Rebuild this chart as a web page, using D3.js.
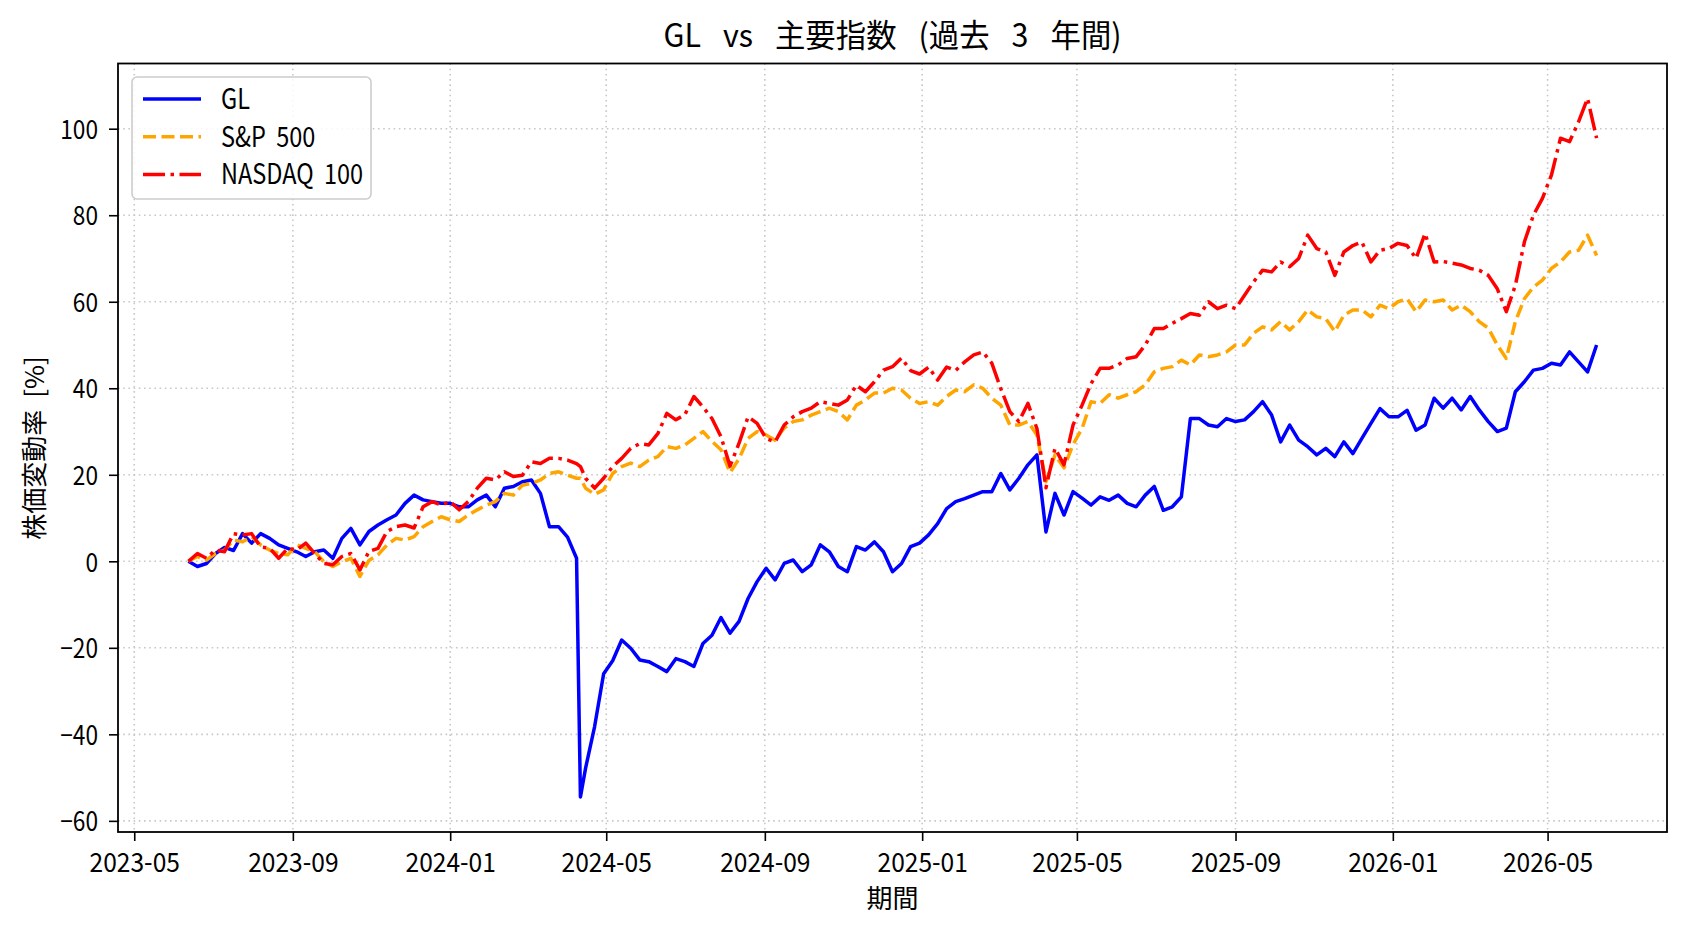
<!DOCTYPE html>
<html>
<head>
<meta charset="utf-8">
<script src="https://cdn.jsdelivr.net/npm/d3@7"></script>
<style>
  body { margin: 0; background: #fff; }
  text { font-family: "Noto Sans CJK JP", "Noto Sans", sans-serif; fill: #000; }
</style>
</head>
<body>
<div id="chart"></div>
<script>
// --- data (percent change since start, sampled about weekly) ---
var startDate = "2023-06-12";
var dayOffsets = [0,7,14,21,28,35,42,49,56,63,70,77,84,91,98,105,112,119,126,133,140,147,154,161,168,175,182,189,196,203,210,217,224,231,238,245,252,259,266,273,280,287,294,301,304,308,315,322,329,336,343,350,357,364,371,378,385,392,399,406,413,420,427,434,441,448,455,462,469,476,483,490,497,504,511,518,525,532,539,546,553,560,567,574,581,588,595,602,609,616,623,630,637,644,651,658,665,672,679,686,693,700,707,714,721,728,735,742,749,756,763,770,777,784,791,798,805,812,819,826,833,840,847,854,861,868,875,882,889,896,903,910,917,924,931,938,945,952,959,966,973,980,987,994,1001,1008,1015,1022,1029,1036,1043,1050,1057,1064,1071,1078,1085,1092];

var glValues = [0,-1.2,-0.5,1.8,3.2,2.5,6.4,4.2,6.4,5.3,
  3.8,3.0,2.2,1.1,2.2,2.6,0.7,5.3,7.6,3.8,
  6.9,8.4,9.6,10.7,13.4,15.3,14.2,13.8,13.4,13.4,
  12.6,12.6,14.2,15.3,12.6,16.9,17.3,18.4,18.8,15.7,
  8.0,8.0,5.6,0.7,
  -54.5,
  -47.8,-38.2,-26.0,-23.0,-18.2,-20.1,
  -22.8,-23.2,-24.3,-25.5,-22.5,-23.2,-24.3,-19.0,-17.1,-13.0,
  -16.6,-13.9,-8.6,-4.7,-1.6,-4.3,-0.5,0.3,-2.4,-0.8,
  3.8,2.2,-1.2,-2.4,3.4,2.6,4.5,2.2,-2.4,-0.5,
  3.4,4.2,6.1,8.7,12.2,13.8,14.5,15.3,16.1,16.1,
  20.3,16.5,19.2,22.3,24.6,6.8,15.7,10.7,16.1,14.6,
  13.0,14.9,14.1,15.3,13.4,12.6,15.3,17.3,11.8,12.6,
  14.9,33.0,33.0,31.5,31.1,33.0,32.3,32.7,34.6,36.9,
  33.8,27.6,31.5,28.0,26.5,24.6,26.1,24.2,27.6,24.9,
  28.4,31.9,35.3,33.4,33.4,34.9,30.3,31.5,37.7,35.4,
  37.7,35.0,38.1,35.0,32.3,30.0,30.8,39.2,41.5,44.2,
  44.6,45.8,45.4,48.4,46.1,43.8,50.0];

var spValues = [0,1.1,0.3,1.8,2.6,4.9,4.5,5.7,3.8,2.6,
  1.8,1.5,3.8,3.0,2.2,-0.1,-1.2,-0.1,0.7,-3.5,
  0.2,1.5,3.8,5.3,4.9,5.7,8.0,9.2,10.3,9.6,
  9.2,10.7,11.9,13.0,13.8,15.7,15.3,17.6,18.0,18.8,
  20.3,20.7,19.9,19.2,
  19.2,
  16.9,15.5,16.5,20.3,21.9,22.7,
  21.9,23.4,24.2,26.5,26.1,26.9,28.4,30.0,27.7,25.8,
  20.5,23.7,28.4,30.0,29.2,28.0,30.8,32.3,32.7,33.8,
  34.6,35.4,34.6,32.7,36.1,37.3,38.9,38.9,40.0,39.6,
  37.7,36.5,36.9,36.1,38.1,39.6,39.2,40.8,40.0,37.7,
  36.1,31.5,31.5,32.3,29.2,18.4,24.6,21.6,27.0,30.7,
  36.9,36.5,38.5,37.7,38.5,39.2,40.8,43.8,44.6,45.0,
  46.5,45.4,47.7,47.3,47.7,48.4,50.0,50.0,52.7,54.2,
  53.5,55.4,53.5,55.4,58.1,56.5,56.1,53.1,56.9,58.1,
  58.1,56.5,59.2,58.4,60.0,60.7,57.7,60.4,60.0,60.4,
  58.1,59.2,57.7,55.4,53.9,50.0,46.9,55.4,60.7,63.4,
  65.0,67.7,69.2,71.5,71.9,75.4,70.7];

var ndxValues = [0,1.8,0.7,2.6,2.2,6.4,6.1,6.4,3.3,3.0,
  0.7,3.0,2.6,4.2,1.8,-0.5,-0.8,1.1,1.8,-2.0,
  2.3,3.0,6.9,8.0,8.4,7.7,12.6,13.8,13.0,13.8,
  11.9,13.8,16.9,19.2,18.8,20.7,19.6,19.9,23.0,22.6,
  23.8,23.8,23.4,22.6,
  21.9,
  19.2,16.9,19.2,21.9,23.8,26.1,
  27.2,26.9,29.5,34.2,32.7,33.9,38.1,35.7,33.0,28.8,
  22.0,27.3,33.4,31.9,28.4,27.6,31.5,33.4,34.6,35.4,
  36.9,36.5,36.1,37.3,40.7,39.2,41.5,44.2,45.0,47.0,
  44.1,43.3,44.9,41.9,44.9,44.1,46.1,47.7,48.4,45.8,
  39.9,34.6,32.3,36.5,30.7,17.0,26.1,22.3,31.5,36.1,
  41.1,44.6,44.6,45.4,46.9,47.3,50.0,53.8,53.8,55.0,
  56.1,57.3,56.9,60.0,58.4,59.2,58.4,61.5,64.6,67.3,
  66.9,69.2,68.1,70.0,75.4,72.3,71.5,66.1,71.5,73.0,
  73.8,69.2,71.9,72.3,73.5,73.0,70.0,75.8,69.2,69.3,
  68.9,68.5,67.7,67.3,66.1,63.0,57.7,63.8,73.8,80.0,
  83.9,89.3,97.8,97.0,101.6,107.0,97.8];

var seriesNames = ["GL", "S&P 500", "NASDAQ 100"];
var seriesColors = ["#0000ff", "#ffa500", "#ff0000"];
var seriesDash = [null, "13,5.5", "22,5.5,3.5,5.5"];
var xTickLabels = ["2023-05","2023-09","2024-01","2024-05","2024-09","2025-01","2025-05","2025-09","2026-01","2026-05"];
var yTickValues = [-60,-40,-20,0,20,40,60,80,100];

(function() {
    var width = 1688,
        height = 932;
    var left = 118, right = 1667, top = 63.5, bottom = 832;
    var squeeze = 0.84;   // the reference font is narrow, so condense the text a bit

    var svg = d3.select("#chart")
        .append("svg")
        .attr("width", width)
        .attr("height", height)

    var parseDay = d3.timeParse("%Y-%m-%d"),
        parseMonth = d3.timeParse("%Y-%m");
    var t0 = parseDay(startDate);
    var dates = dayOffsets.map(function(o) { return d3.timeDay.offset(t0, o) });

    var allValues = [glValues, spValues, ndxValues];
    var series = allValues.map(function(vals, i) {
        return {
            name: seriesNames[i],
            color: seriesColors[i],
            dash: seriesDash[i],
            points: vals.map(function(v, j) { return {date: dates[j], value: v} })
        }
    })

    // matplotlib style 5% margins
    var dExt = d3.extent(dates),
        dPad = (dExt[1] - dExt[0]) * 0.05;
    var vExt = d3.extent(d3.merge(allValues)),
        vPad = (vExt[1] - vExt[0]) * 0.05;

    var x = d3.scaleTime()
        .domain([new Date(+dExt[0] - dPad), new Date(+dExt[1] + dPad)])
        .range([left, right])
    var y = d3.scaleLinear()
        .domain([vExt[0] - vPad, vExt[1] + vPad])
        .range([bottom, top])

    var xTicks = xTickLabels.map(function(s) { return parseMonth(s) });

    // grid
    var grid = svg.append("g")
        .attr("stroke", "#c8c8c8")
        .attr("stroke-width", 1.6)
        .attr("stroke-dasharray", "1.6,3.6")
    grid.selectAll(".gx")
        .data(xTicks)
        .enter().append("line")
        .attr("x1", function(d) { return x(d) })
        .attr("x2", function(d) { return x(d) })
        .attr("y1", top)
        .attr("y2", bottom)
    grid.selectAll(".gy")
        .data(yTickValues)
        .enter().append("line")
        .attr("x1", left)
        .attr("x2", right)
        .attr("y1", function(d) { return y(d) })
        .attr("y2", function(d) { return y(d) })

    // lines
    var line = d3.line()
        .x(function(d) { return x(d.date) })
        .y(function(d) { return y(d.value) })

    svg.selectAll(".series")
        .data(series)
        .enter().append("path")
        .attr("class", "series")
        .attr("d", function(d) { return line(d.points) })
        .attr("fill", "none")
        .attr("stroke", function(d) { return d.color })
        .attr("stroke-width", 3.5)
        .attr("stroke-linejoin", "round")
        .attr("stroke-dasharray", function(d) { return d.dash })

    // frame
    svg.append("rect")
        .attr("x", left)
        .attr("y", top)
        .attr("width", right - left)
        .attr("height", bottom - top)
        .attr("fill", "none")
        .attr("stroke", "#000")
        .attr("stroke-width", 1.8)

    // axes
    var xAxis = svg.append("g")
        .attr("transform", "translate(0," + bottom + ")")
        .call(d3.axisBottom(x)
            .tickValues(xTicks)
            .tickFormat(d3.timeFormat("%Y-%m"))
            .tickSize(9)
            .tickPadding(6))
    var yAxis = svg.append("g")
        .attr("transform", "translate(" + left + ",0)")
        .call(d3.axisLeft(y)
            .tickValues(yTickValues)
            .tickFormat(function(d) { return d < 0 ? "\u2212" + Math.abs(d) : d })
            .tickSize(9)
            .tickPadding(11))
    ;[xAxis, yAxis].forEach(function(a) {
        a.select(".domain").remove()
        a.selectAll(".tick line").attr("stroke", "#000").attr("stroke-width", 1.6)
        a.selectAll(".tick text")
            .attr("fill", "#000")
            .style("font-size", "27px")
            .style("font-family", "'Noto Sans CJK JP', 'Noto Sans', sans-serif")
    })
    xAxis.selectAll(".tick text")
        .attr("dy", "0.92em")
        .attr("transform", "scale(0.91,1)")
    yAxis.selectAll(".tick text")
        .attr("dy", "0.36em")
        .attr("x", -20 / squeeze)
        .attr("transform", "scale(" + squeeze + ",1)")

    // title
    svg.append("text")
        .attr("transform", "translate(" + ((left + right) / 2) + ",47) scale(0.95,1)")
        .attr("text-anchor", "middle")
        .style("font-size", "32px")
        .style("word-spacing", "16px")
        .text("GL vs 主要指数 (過去 3 年間)")

    // axis labels
    svg.append("text")
        .attr("x", (left + right) / 2)
        .attr("y", 908)
        .attr("text-anchor", "middle")
        .style("font-size", "26px")
        .text("期間")
    svg.append("text")
        .attr("transform", "translate(44,448) rotate(-90)")
        .attr("text-anchor", "middle")
        .style("font-size", "26px")
        .style("word-spacing", "6px")
        .text("株価変動率 [%]")

    // legend
    var legend = svg.append("g")
        .attr("transform", "translate(132,77)")
    legend.append("rect")
        .attr("width", 239)
        .attr("height", 122)
        .attr("rx", 5)
        .attr("fill", "#fff")
        .attr("fill-opacity", 0.85)
        .attr("stroke", "#cccccc")
        .attr("stroke-width", 1.6)
    var items = legend.selectAll(".item")
        .data(series)
        .enter().append("g")
        .attr("class", "item")
        .attr("transform", function(d, i) { return "translate(0," + (22 + i * 37.7) + ")" })
    items.append("line")
        .attr("x1", 11)
        .attr("x2", 69)
        .attr("stroke", function(d) { return d.color })
        .attr("stroke-width", 3.5)
        .attr("stroke-dasharray", function(d) { return d.dash })
    items.append("text")
        .attr("transform", "translate(89,0) scale(" + squeeze + ",1)")
        .attr("dy", "0.36em")
        .style("font-size", "28px")
        .style("word-spacing", "6px")
        .text(function(d) { return d.name })
})();
</script>
</body>
</html>
